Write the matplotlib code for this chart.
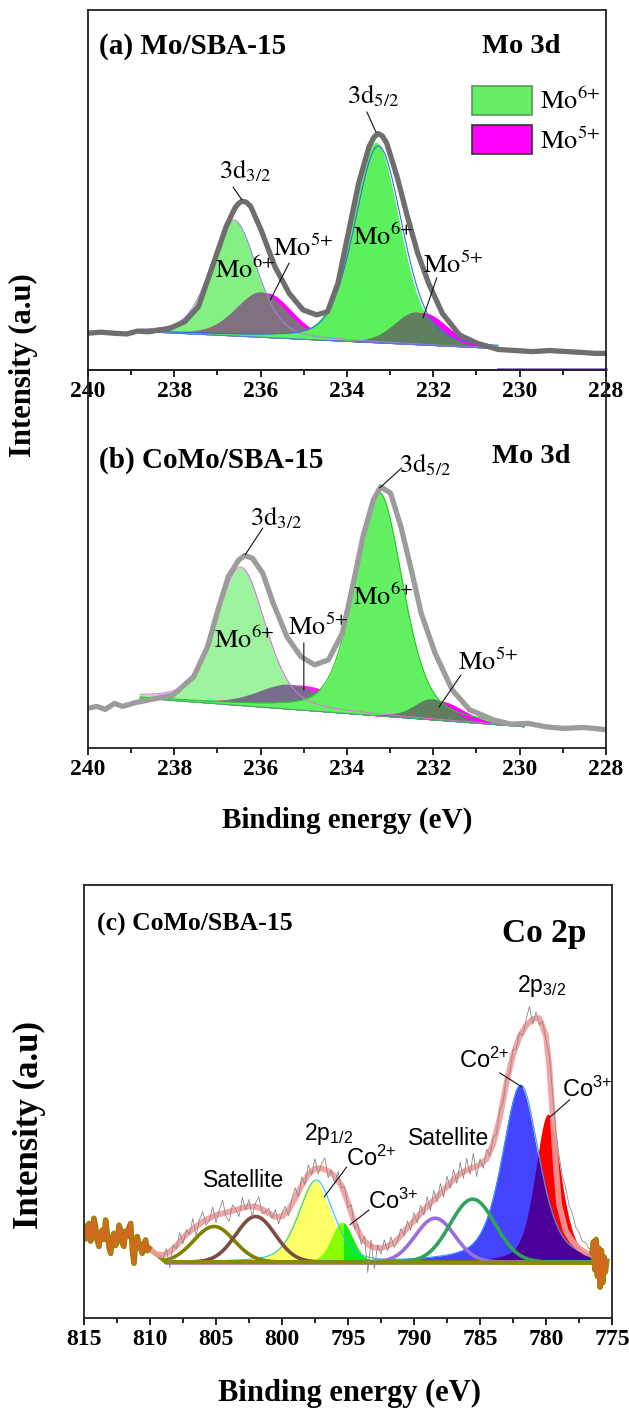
import numpy as np
import matplotlib
matplotlib.use('Agg')
import matplotlib.pyplot as plt
from matplotlib.patches import Patch
from matplotlib.ticker import MultipleLocator

plt.rcParams['font.family'] = ['Liberation Serif', 'DejaVu Serif']
plt.rcParams['mathtext.fontset'] = 'custom'
plt.rcParams['mathtext.rm'] = 'Liberation Sans'
plt.rcParams['mathtext.it'] = 'Liberation Sans:italic'
plt.rcParams['mathtext.bf'] = 'Liberation Sans:bold'

# ---------------- data ----------------
ticks_mo = [240, 238, 236, 234, 232, 230, 228]
ticks_co = [815, 810, 805, 800, 795, 790, 785, 780, 775]

# (a) Mo/SBA-15 : measured envelope (grey)
env_a_E = [240.0, 239.7, 239.4, 239.1, 238.85, 238.6, 238.1, 237.76, 237.44, 237.12, 236.8,
           236.6, 236.52, 236.43, 236.33, 236.23, 235.99, 235.67, 235.34, 235.02, 234.7,
           234.45, 234.21, 233.97, 233.73, 233.49, 233.38, 233.28, 233.18, 233.08, 232.84,
           232.6, 232.36, 232.11, 231.79, 231.39, 230.98, 230.5, 229.7, 229.3, 228.9,
           228.6, 228.24, 228.0]
env_a_I = [10.2, 10.5, 10.2, 10.0, 10.8, 10.6, 11.6, 13.4, 17.6, 28.7, 39.8,
           44.9, 46.2, 46.9, 46.6, 45.4, 38.9, 28.7, 21.3, 16.7, 15.3,
           16.2, 24.1, 38.0, 51.9, 62.0, 64.6, 65.7, 65.0, 63.0, 53.7,
           42.6, 32.4, 24.1, 15.7, 9.7, 7.4, 5.7, 5.1, 5.4, 5.1,
           4.9, 4.6, 4.6]
base_a_E = [230.6, 238.6]
base_a_I = [6.0, 10.6]
fit_a = [230.5, 238.8]
# peaks: centre (eV), height, FWHM (eV), lorentz fraction
a_mo6_32 = [236.62, 32.2, 1.25, 0.3]
a_mo5_32 = [236.00, 12.6, 1.40, 0.3]
a_mo5_32m = [235.85, 12.4, 1.40, 0.3]
a_mo6_52 = [233.33, 55.7, 1.30, 0.3]
a_mo5_52 = [232.40, 9.1, 1.20, 0.2]
a_mo5_52m = [232.22, 9.0, 1.30, 0.2]

# (b) CoMo/SBA-15 Mo 3d
env_b_E = [240.0, 239.8, 239.6, 239.39, 239.2, 238.9, 238.59, 238.03, 237.55, 237.23,
           236.99, 236.75, 236.51, 236.37, 236.19, 235.95, 235.71, 235.39, 235.07,
           234.75, 234.43, 234.11, 233.87, 233.63, 233.39, 233.22, 232.99, 232.75,
           232.51, 232.28, 231.96, 231.56, 231.16, 230.6, 230.2, 229.8, 229.4, 229.0,
           228.5, 228.05]
env_b_I = [10.5, 11.0, 10.2, 11.8, 11.0, 12.0, 12.7, 14.0, 18.9, 26.8,
           36.5, 45.3, 49.7, 50.9, 50.2, 46.2, 38.3, 29.4, 24.2,
           22.0, 23.3, 30.3, 42.7, 55.9, 65.6, 69.1, 67.4, 58.5,
           47.1, 35.6, 25.1, 15.3, 10.1, 7.4, 6.3, 6.5, 5.6, 5.2,
           5.4, 4.9]
base_b_E = [229.88, 238.75]
base_b_I = [5.6, 13.2]
fit_b = [229.9, 238.8]
b_mo6_32 = [236.46, 36.6, 1.35, 0.35]
b_mo5_32 = [235.32, 6.6, 1.80, 0.3]
b_mo5_32m = [235.02, 6.6, 2.20, 0.3]
b_mo6_52 = [233.26, 59.2, 1.31, 0.35]
b_mo5_52 = [232.03, 5.6, 1.00, 0.2]
b_mo5_52m = [231.85, 5.2, 1.30, 0.2]

# (c) CoMo/SBA-15 Co 2p : raw counts, 0.25 eV steps from 809.0 down to 776.5
raw_c_I = [14.8, 16.9, 12.5, 17.8, 16.9, 20.6, 18.0, 21.3,
           20.2, 23.9, 19.8, 23.6, 25.4, 22.3, 23.4, 26.5,
           22.9, 25.7, 28.1, 24.3, 23.2, 27.0, 25.9, 24.3,
           28.7, 25.8, 28.2, 24.2, 27.4, 28.9, 24.9, 25.3,
           26.2, 23.8, 25.9, 22.6, 25.1, 26.6, 24.5, 28.3,
           30.9, 28.8, 33.4, 31.6, 36.2, 33.9, 37.6, 34.1,
           36.5, 37.8, 33.2, 35.0, 31.8, 34.7, 30.9, 31.2,
           26.3, 27.0, 21.4, 22.6, 17.9, 19.8, 11.4, 18.9,
           12.2, 17.8, 15.6, 18.9, 16.4, 19.6, 17.2, 18.4,
           21.5, 19.9, 23.3, 21.1, 25.2, 22.8, 26.9, 24.6,
           28.9, 25.6, 30.4, 27.6, 31.9, 28.7, 33.6, 30.8,
           35.2, 31.9, 36.8, 33.1, 37.7, 34.0, 38.9, 33.5,
           37.6, 35.4, 39.8, 38.2, 42.6, 43.1, 48.9, 50.6,
           56.3, 57.1, 62.8, 62.9, 66.7, 65.9, 69.8, 72.7,
           68.6, 71.4, 68.5, 69.3, 64.8, 61.7, 52.6, 44.1,
           38.2, 33.5, 30.9, 26.8, 25.0, 21.9, 20.7, 18.6,
           18.3, 16.9, 17.2]
raw_c_E = np.linspace(809.0, 776.5, len(raw_c_I))

env_c_E = [810.1, 809.5, 809.0, 808.5, 808.0, 807.5, 807.0, 806.5, 806.0, 805.5, 805.0,
           804.5, 804.0, 803.5, 803.0, 802.5, 802.0, 801.5, 801.0, 800.5, 800.0,
           799.5, 799.0, 798.5, 798.0, 797.5, 797.0, 796.5, 796.0, 795.5, 795.0,
           794.5, 794.0, 793.5, 793.0, 792.5, 792.0, 791.5, 791.0, 790.5, 790.0,
           789.5, 789.0, 788.5, 788.0, 787.5, 787.0, 786.5, 786.0, 785.5, 785.0,
           784.5, 784.0, 783.5, 783.0, 782.5, 782.0, 781.5, 781.0, 780.5, 780.0,
           779.75, 779.5, 779.25, 779.0, 778.5, 778.0, 777.5, 777.0, 776.5]
env_c_I = [17.0, 15.6, 15.4, 16.2, 17.5, 19.4, 20.8, 22.0, 23.1, 23.9, 24.6,
           25.0, 25.4, 25.8, 26.3, 26.6, 26.6, 26.0, 25.0, 24.2, 24.3,
           25.8, 28.5, 31.5, 34.0, 35.3, 35.4, 34.8, 33.6, 31.5, 27.5,
           22.8, 19.5, 17.9, 17.1, 17.0, 17.5, 18.3, 19.8, 21.7, 23.3,
           25.0, 26.6, 28.1, 29.6, 31.2, 32.8, 34.2, 35.0, 35.6, 36.3,
           37.5, 41.0, 47.0, 55.0, 61.5, 65.8, 68.3, 69.8, 70.0, 66.0,
           59.0, 48.0, 36.0, 27.0, 21.0, 18.6, 17.0, 16.0, 15.4]

edgeL_E = [815.0, 814.88, 814.75, 814.62, 814.5, 814.37, 814.25, 814.12, 814.0, 813.86,
           813.74, 813.61, 813.49, 813.36, 813.18, 813.08, 812.98, 812.85, 812.73, 812.6,
           812.47, 812.35, 812.22, 812.1, 811.97, 811.85, 811.72, 811.6, 811.46, 811.33,
           811.21, 811.08, 810.96, 810.77, 810.58, 810.45, 810.33, 810.2, 810.08]
edgeL_I = [22.0, 19.1, 20.4, 22.7, 18.6, 19.7, 23.9, 22.0, 18.8, 17.4,
           20.3, 21.2, 19.0, 23.5, 18.9, 16.9, 15.8, 19.4, 20.4, 17.6,
           18.9, 22.3, 21.2, 18.1, 17.4, 20.9, 19.7, 21.8, 22.7, 16.2,
           13.5, 18.4, 19.7, 17.3, 15.8, 18.1, 18.9, 16.4, 17.0]
edgeR_E = [776.5, 776.4, 776.3, 776.2, 776.1, 776.0, 775.9, 775.8, 775.7, 775.6, 775.5, 775.4]
edgeR_I = [16.0, 18.5, 12.0, 19.0, 10.5, 17.0, 8.0, 16.5, 9.0, 15.0, 11.5, 14.0]
bg_c_E = [810.08, 808.8, 776.5]
bg_c_I = [17.0, 13.8, 13.6]
base_c = 13.8
fit_c = [776.6, 808.8]
c_sat1 = [805.15, 8.2, 3.6, 0.0]
c_sat2 = [802.0, 10.5, 3.5, 0.0]
c_co2_12 = [797.6, 18.9, 3.1, 0.4]
c_co3_12 = [795.45, 9.2, 1.9, 0.2]
c_sat3 = [788.4, 10.1, 3.5, 0.0]
c_sat4 = [785.55, 14.5, 4.0, 0.0]
c_co2_32 = [782.0, 40.8, 3.3, 0.5]
c_co3_32 = [779.85, 34.1, 2.3, 0.4]


def pv(E, p):
    c, h, w, eta = p
    u = (E - c) / w
    return h * (eta / (1 + 4 * u**2) + (1 - eta) * np.exp(-4 * np.log(2) * u**2))


def setup(ax, lim, ticks, minor, ylim):
    ax.set_xlim(lim)
    ax.set_ylim(ylim)
    ax.set_xticks(ticks)
    ax.set_xticklabels([str(t) for t in ticks], fontweight='bold', fontsize=17)
    ax.xaxis.set_minor_locator(MultipleLocator(minor))
    ax.set_yticks([])
    ax.tick_params(axis='x', which='major', direction='out', length=5, width=1.2, pad=3)
    ax.tick_params(axis='x', which='minor', direction='out', length=3.5, width=1.2)
    for s in ax.spines.values():
        s.set_linewidth(1.3)
        s.set_color('#222222')
    ax.patch.set_visible(False)


def lab(ax, x, y, s, size=19, sans=False, **kw):
    ax.text(x, y, s, fontsize=size, ha='center', va='center',
            math_fontfamily='custom' if sans else 'stix', **kw)


def lead(ax, p0, p1):
    ax.annotate('', xy=p1, xytext=p0,
                arrowprops=dict(arrowstyle='-', lw=0.8, color='#111111',
                                shrinkA=0, shrinkB=0))


MO6 = r'$\mathrm{Mo}^{6{+}}$'
MO5 = r'$\mathrm{Mo}^{5{+}}$'
CO2 = r'$\mathrm{Co}^{2{+}}$'
CO3 = r'$\mathrm{Co}^{3{+}}$'

fig = plt.figure(figsize=(6.29, 14.11), dpi=100)
ax_a = fig.add_axes([0.1399, 0.7378, 0.8235, 0.2551])
ax_b = fig.add_axes([0.1399, 0.4699, 0.8235, 0.2679])
ax_c = fig.add_axes([0.1335, 0.0659, 0.8394, 0.3069])

# ---------------- (a) ----------------
ax = ax_a
E = np.linspace(fit_a[0], fit_a[1], 500)
bl = np.interp(E, base_a_E, base_a_I)
ax.fill_between(E, bl, bl + pv(E, a_mo6_32), color='#84f084', lw=0)
ax.plot(E, bl + pv(E, a_mo6_32), color='#b27ae6', lw=0.7)
ax.fill_between(E, bl, bl + pv(E, a_mo5_32m), color='#ff00ff', lw=0)
ax.fill_between(E, bl, bl + pv(E, a_mo5_32), color='#807080', lw=0)
ax.fill_between(E, bl, bl + pv(E, a_mo6_52), color='#5cf05c', lw=0)
ax.plot(E, bl + pv(E, [a_mo6_52[0] - 0.06, a_mo6_52[1] - 1.0] + a_mo6_52[2:]),
        color='#2f6fe6', lw=0.8)
ax.fill_between(E, bl, bl + pv(E, a_mo5_52m), color='#ff00ff', lw=0)
ax.fill_between(E, bl, bl + pv(E, a_mo5_52), color='#5f805f', lw=0)
ax.plot(E, bl, color='#4d7cf0', lw=0.8)
ax.plot(env_a_E, env_a_I, color='#6e6e6e', lw=3.8, solid_joinstyle='round')
ax.plot([230.5, 228.0], [0.3, 0.3], color='#9a70d8', lw=2, clip_on=False)
setup(ax, (240, 228), ticks_mo, 1, (0, 100))
ax.text(239.75, 90, '(a) Mo/SBA-15', fontsize=21, fontweight='bold', va='center')
ax.text(229.96, 90, 'Mo 3d', fontsize=20.5, fontweight='bold', ha='center', va='center')
lab(ax, 233.4, 76.1, r'$\mathrm{3d}_{5/2}$')
lead(ax, (233.54, 71.7), (233.33, 66.1))
lab(ax, 236.36, 55.3, r'$\mathrm{3d}_{3/2}$')
lead(ax, (236.64, 50.8), (236.43, 47.2))
lab(ax, 236.36, 27.8, MO6)
lab(ax, 235.02, 33.9, MO5)
lead(ax, (235.34, 29.7), (235.78, 19.4))
lab(ax, 233.17, 36.9, MO6)
lab(ax, 231.54, 29.2, MO5)
lead(ax, (231.92, 25.6), (232.24, 14.4))
handles = [Patch(facecolor='#66ee66', edgecolor='#5a9a5a', lw=1.2),
           Patch(facecolor='#ff00ff', edgecolor='#333333', lw=1.2)]
leg = ax.legend(handles, [MO6, MO5],
                loc='upper left', bbox_to_anchor=(0.705, 0.84), frameon=False,
                handlelength=2.3, handleheight=1.3, labelspacing=0.4,
                handletextpad=0.3, borderpad=0.2, fontsize=19)
for t in leg.get_texts():
    t.set_math_fontfamily('stix')

# ---------------- (b) ----------------
ax = ax_b
E = np.linspace(fit_b[0], fit_b[1], 500)
bl = np.interp(E, base_b_E, base_b_I)
ax.fill_between(E, bl, bl + pv(E, b_mo6_32), color='#9ef49e', lw=0)
ax.plot(E, bl + pv(E, b_mo6_32), color='#ee66ee', lw=0.7)
ax.fill_between(E, bl, bl + pv(E, b_mo5_32m), color='#ee22ee', lw=0)
ax.fill_between(E, bl, bl + pv(E, b_mo5_32), color='#786e8c', lw=0)
ax.fill_between(E, bl, bl + pv(E, b_mo6_52), color='#62f062', lw=0)
ax.plot(E, bl + pv(E, b_mo6_52), color='#22cc22', lw=0.8)
ax.fill_between(E, bl, bl + pv(E, b_mo5_52m), color='#ff00ff', lw=0)
ax.fill_between(E, bl, bl + pv(E, b_mo5_52), color='#5f7f5f', lw=0)
ax.plot(E, bl, color='#44aa66', lw=0.8)
ax.plot(env_b_E, env_b_I, color='#9c9c9c', lw=3.8, solid_joinstyle='round')
setup(ax, (240, 228), ticks_mo, 1, (0, 100))
ax.set_xlabel('Binding energy (eV)', fontsize=21, fontweight='bold')
ax.xaxis.set_label_coords(0.5, -0.155)
ax.text(239.75, 76.2, '(b) CoMo/SBA-15', fontsize=21, fontweight='bold', va='center')
ax.text(229.72, 77, 'Mo 3d', fontsize=20.5, fontweight='bold', ha='center', va='center')
lab(ax, 235.64, 60.8, r'$\mathrm{3d}_{3/2}$')
lead(ax, (235.95, 58.2), (236.36, 51.1))
lab(ax, 232.19, 74.9, r'$\mathrm{3d}_{5/2}$')
lead(ax, (232.73, 74.1), (233.24, 68.8))
lab(ax, 236.39, 28.6, MO6)
lab(ax, 234.67, 32.0, MO5)
lead(ax, (235.0, 27.8), (235.0, 15.3))
lab(ax, 233.17, 40.0, MO6)
lab(ax, 230.73, 22.8, MO5)
lead(ax, (231.36, 19.3), (231.87, 10.8))

# ---------------- (c) ----------------
ax = ax_c
E = np.linspace(fit_c[0], fit_c[1], 800)
bl = np.full_like(E, base_c)
ax.fill_between(E, bl, bl + pv(E, c_co2_12), color='#ffff66', lw=0)
ax.plot(E, bl + pv(E, [c_co2_12[0] - 0.2] + c_co2_12[1:]), color='#22c8ee', lw=0.8)
co3 = pv(E, c_co3_12)
ax.fill_between(E, bl, bl + co3, color='#88ff00', lw=0)
ax.fill_between(E, bl, bl + co3, where=E < c_co3_12[0] - 0.1, color='#11ee11', lw=0)
red = pv(E, c_co3_32)
blue = pv(E, c_co2_32)
ax.fill_between(E, bl, bl + red, color='#ff0000', lw=0)
ax.fill_between(E, bl, bl + blue, color='#4444ff', lw=0)
ax.fill_between(E, bl, bl + np.minimum(red, blue), color='#4a0099', lw=0)
ax.plot(E, bl + pv(E, [c_co2_32[0] - 0.1] + c_co2_32[1:]), color='#3399ff', lw=0.8)
ax.plot(E, bl - 0.4, color='#cc77ee', lw=1.2)
for p, col in [(c_sat1, '#808000'), (c_sat2, '#7d4b40'), (c_sat3, '#9a6ee0'), (c_sat4, '#2ea35c')]:
    ax.plot(E, bl + pv(E, p), color=col, lw=2.6)
ax.plot(bg_c_E, bg_c_I, color='#8b8b00', lw=3)
ax.plot(env_c_E, env_c_I, color='#f49a9a', lw=4.2, alpha=0.9, solid_joinstyle='round')
ax.plot(raw_c_E, raw_c_I, color='#8a8a8a', lw=0.6)
for xs, ys in [(edgeL_E, edgeL_I), (edgeR_E, edgeR_I)]:
    ax.plot(xs, ys, color='#8b8b00', lw=4)
    ax.plot(xs, ys, color='#d2691e', lw=2.4)
setup(ax, (815, 775), ticks_co, 2.5, (0.9, 100.7))
ax.set_xlabel('Binding energy (eV)', fontsize=22, fontweight='bold')
ax.xaxis.set_label_coords(0.502, -0.14)
ax.text(814.0, 91.5, '(c) CoMo/SBA-15', fontsize=18.5, fontweight='bold', va='center')
ax.text(780.15, 89.6, 'Co 2p', fontsize=24, fontweight='bold', ha='center', va='center')
lab(ax, 780.3, 77.4, r'$\mathrm{2p}_{3/2}$', 16.5, True)
lab(ax, 784.7, 60.4, CO2, 17, True)
lead(ax, (783.5, 57.4), (781.8, 54.1))
lab(ax, 776.9, 53.7, CO3, 17, True)
lead(ax, (778.2, 51.2), (779.7, 47.2))
ax.text(787.4, 42.2, 'Satellite', fontsize=16.5, family='Liberation Sans', ha='center', va='center')
lab(ax, 796.5, 43.3, r'$\mathrm{2p}_{1/2}$', 16.5, True)
lab(ax, 793.25, 37.6, CO2, 17, True)
lead(ax, (795.1, 35.7), (796.8, 28.8))
lab(ax, 791.55, 27.9, CO3, 17, True)
lead(ax, (793.4, 25.8), (794.85, 22.4))
ax.text(802.9, 32.5, 'Satellite', fontsize=16.5, family='Liberation Sans', ha='center', va='center')

fig.text(0.038, 1 - 365 / 1411, 'Intensity (a.u)', rotation=90, fontsize=22,
         fontweight='bold', ha='center', va='center')
fig.text(0.047, 1 - 1125 / 1411, 'Intensity (a.u)', rotation=90, fontsize=25,
         fontweight='bold', ha='center', va='center')

fig.savefig('out.png', dpi=100)
